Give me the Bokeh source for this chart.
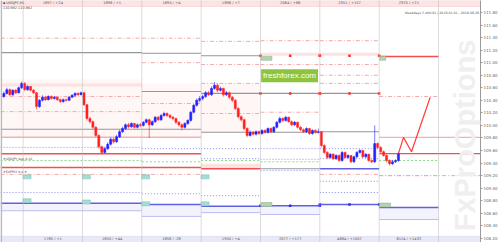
import math
from bokeh.plotting import figure
from bokeh.models import Range1d, FixedTicker, BoxAnnotation, Label, Span, NumeralTickFormatter
from bokeh.core.properties import value
from bokeh.embed import file_html
from bokeh.resources import INLINE

# ---------------- data ----------------
first_open = 110.46
closes = [110.51, 110.57, 110.49, 110.56, 110.52, 110.60, 110.67, 110.57, 110.62, 110.56,
          110.52, 110.30, 110.40, 110.45, 110.41, 110.46, 110.43, 110.45, 110.41, 110.38,
          110.41, 110.40, 110.45, 110.48, 110.51, 110.49, 110.52, 110.33, 110.11, 110.06,
          109.97, 109.84, 109.66, 109.57, 109.63, 109.70, 109.78, 109.74, 109.82, 109.90,
          109.95, 110.01, 109.98, 110.03, 109.97, 110.01, 110.00, 110.05, 110.09, 110.01,
          110.06, 110.13, 110.09, 110.16, 110.19, 110.16, 110.13, 110.11, 110.05, 110.01,
          109.97, 110.03, 110.08, 110.21, 110.32, 110.40, 110.43, 110.46, 110.52, 110.49,
          110.59, 110.64, 110.56, 110.59, 110.49, 110.52, 110.45, 110.40, 110.27, 110.14,
          110.09, 109.95, 109.84, 109.89, 109.86, 109.90, 109.87, 109.92, 109.89, 109.95,
          109.90, 109.97, 110.05, 110.11, 110.08, 110.13, 110.06, 110.01, 110.05, 109.97,
          109.93, 109.90, 109.95, 109.87, 109.92, 109.89, 109.90, 109.68, 109.57, 109.49,
          109.54, 109.47, 109.52, 109.44, 109.57, 109.49, 109.52, 109.42, 109.50, 109.57,
          109.60, 109.50, 109.54, 109.44, 109.42, 109.71, 109.65, 109.58, 109.52, 109.44,
          109.39, 109.42, 109.44, 109.55]
highs = [110.54, 110.60, 110.59, 110.58, 110.58, 110.62, 110.70, 110.69, 110.64, 110.63,
         110.58, 110.53, 110.42, 110.48, 110.47, 110.48, 110.48, 110.47, 110.46, 110.43,
         110.43, 110.43, 110.47, 110.50, 110.53, 110.53, 110.54, 110.53, 110.34, 110.14,
         110.08, 109.99, 109.86, 109.68, 109.66, 109.73, 109.81, 109.80, 109.85, 109.93,
         109.98, 110.03, 110.04, 110.05, 110.04, 110.03, 110.04, 110.07, 110.11, 110.11,
         110.08, 110.15, 110.15, 110.18, 110.22, 110.21, 110.18, 110.15, 110.12, 110.07,
         110.03, 110.05, 110.10, 110.23, 110.34, 110.43, 110.47, 110.49, 110.55, 110.55,
         110.62, 110.69, 110.67, 110.62, 110.60, 110.55, 110.54, 110.47, 110.42, 110.29,
         110.16, 110.11, 109.97, 109.92, 109.91, 109.92, 109.92, 109.94, 109.94, 109.97,
         109.97, 109.99, 110.07, 110.14, 110.13, 110.15, 110.14, 110.08, 110.07, 110.06,
         109.99, 109.95, 109.97, 109.96, 109.94, 109.94, 109.95, 109.91, 109.70, 109.59,
         109.56, 109.56, 109.54, 109.54, 109.59, 109.58, 109.54, 109.53, 109.52, 109.59,
         109.62, 109.61, 109.56, 109.55, 109.46, 110.00, 109.73, 109.67, 109.60, 109.54,
         109.46, 109.45, 109.46, 109.58]
lows = [110.44, 110.49, 110.47, 110.47, 110.50, 110.51, 110.58, 110.55, 110.55, 110.54,
        110.50, 110.26, 110.28, 110.38, 110.39, 110.40, 110.41, 110.41, 110.39, 110.36,
        110.36, 110.38, 110.39, 110.44, 110.46, 110.47, 110.48, 110.31, 110.08, 110.03,
        109.94, 109.81, 109.63, 109.54, 109.55, 109.61, 109.68, 109.71, 109.72, 109.80,
        109.88, 109.93, 109.95, 109.96, 109.95, 109.95, 109.97, 109.98, 110.03, 109.80,
        109.99, 110.04, 110.07, 110.07, 110.14, 110.13, 110.11, 110.08, 110.02, 109.98,
        109.92, 109.95, 110.01, 110.06, 110.19, 110.30, 110.37, 110.40, 110.44, 110.47,
        110.47, 110.57, 110.53, 110.54, 110.46, 110.47, 110.42, 110.37, 110.24, 110.11,
        110.06, 109.92, 109.81, 109.82, 109.84, 109.84, 109.85, 109.85, 109.87, 109.87,
        109.88, 109.88, 109.95, 110.03, 110.05, 110.06, 110.04, 109.99, 109.99, 109.95,
        109.91, 109.88, 109.88, 109.85, 109.85, 109.87, 109.87, 109.65, 109.54, 109.46,
        109.47, 109.45, 109.45, 109.42, 109.42, 109.47, 109.47, 109.40, 109.40, 109.48,
        109.55, 109.48, 109.48, 109.42, 109.40, 109.40, 109.63, 109.56, 109.50, 109.41,
        109.36, 109.37, 109.40, 109.42]
opens = [first_open] + closes[:-1]

# forecast path
fc_x = [133, 134.7, 137.4, 143.7]
fc_y = [109.55, 109.81, 109.58, 110.45]

# session separators (bar index) and level groups
separators = [6.5, 26.5, 46.5, 66.5, 86.5, 106.5, 126.5, 146.5]
groups = [(-1.14, 46.5), (46.5, 66.5), (66.5, 86.5), (86.5, 106.5), (106.5, 126.5), (126.5, 146.5)]

pink_dashdot = [[111.39, 110.46, 110.22, 109.22], [111.39, 111.00, 110.35, 109.22],
                [111.34, 110.97, 110.67, 110.19], [111.35, 110.97, 110.21],
                [111.35, 110.97, 110.80, 110.67, 109.22], [110.46, 109.20]]
gray_lines = [[111.16, 109.94], [111.15, 110.54, 109.94], [111.11, 110.51, 109.89],
              [110.51, 109.89, 109.31], [110.51, 109.90], []]
red_light = [[109.81], [109.81], [], [], [], []]
red_strong = [[109.55, 109.33], [109.55, 109.33], [109.31], [], [], [111.10]]
blue_dotted = [[109.65, 108.93], [109.63, 108.91], [109.63, 109.47, 108.88],
               [109.63, 109.46, 109.28], [109.63, 109.47, 109.11, 108.93], []]
green_dashed = [[109.44], [109.42], [109.44], [109.42], [], [109.44]]
blue_solid = [[108.76], [108.74], [108.71], [108.72], [109.31, 108.74], [108.69]]
blue_light = [[108.64], [108.55], [108.61], [108.58], [], [108.50]]
pink_zone = [(110.73, 109.81), (110.67, 109.81), (110.67, 109.89), None, None, None]
pink_band = [(110.67, 110.62), None, (109.39, 109.31), (111.16, 111.11), (111.16, 111.11), None]

last_levels = [109.81, 109.55]
last_labels = ["109.81", "109.55"]

top_labels = ["1897 / +24", "1898 / +1", "1895 / +4", "1896 / +7", "2064 / +86", "2351 / +157", "2370 / +21"]
bottom_labels = ["1785 / +1", "1850 / +44", "1858 / -28", "1950 / +4", "2077 / +177", "4684 / +1007", "6124 / +1432"]

tick_values = [111.80, 111.60, 111.40, 111.20, 111.00, 110.80, 110.60, 110.40, 110.20, 110.00,
               109.80, 109.60, 109.40, 109.20, 109.00, 108.80, 108.60, 108.40, 108.20]

# ---------------- figure ----------------
X0, X1 = -1.14, 160.66
Y0, Y1 = 108.134, 111.991
p = figure(width=500, height=242, x_range=Range1d(X0, X1), y_range=Range1d(Y0, Y1),
           output_backend="svg", toolbar_location=None, min_border=0,
           x_axis_location=None, y_axis_location="right")
p.grid.visible = False
p.outline_line_color = None
p.background_fill_color = "white"
p.border_fill_color = "white"

ax = p.yaxis[0]
ax.ticker = FixedTicker(ticks=tick_values)
ax.formatter = NumeralTickFormatter(format="0.00")
ax.major_label_text_font_size = "4px"
ax.major_label_text_color = "#666666"
ax.major_label_text_font = "DejaVu Sans"
ax.major_tick_out = 2
ax.major_tick_in = 0
ax.minor_tick_line_color = None
ax.major_label_standoff = 1
ax.axis_line_color = "#9a9a9a"
ax.major_tick_line_color = "#9a9a9a"

# faint zones and bands
zl, zr, zt, zb = [], [], [], []
for g, z in zip(groups, pink_zone):
    if z:
        zl.append(g[0]); zr.append(g[1]); zt.append(z[0]); zb.append(z[1])
p.quad(left=zl, right=zr, top=zt, bottom=zb, fill_color="#fff6f6", line_color=None)

bl, br, bt, bb = [], [], [], []
for g, z in zip(groups, pink_band):
    if z:
        bl.append(g[0]); br.append(g[1]); bt.append(z[0]); bb.append(z[1])
p.quad(left=bl, right=br, top=bt, bottom=bb, fill_color="#fde2e2", line_color=None)

ll, lr, lt, lb = [], [], [], []
for g, a, b in zip(groups, blue_solid, blue_light):
    if a and b:
        ll.append(g[0]); lr.append(g[1]); lt.append(a[-1]); lb.append(b[0])
p.quad(left=ll, right=lr, top=lt, bottom=lb, fill_color="#f3f3fd", line_color=None)


def level_segments(levels):
    x0, x1, y = [], [], []
    for g, lv in zip(groups, levels):
        for v in lv:
            x0.append(g[0]); x1.append(g[1]); y.append(v)
    return dict(x0=x0, x1=x1, y0=y, y1=y)


def draw(levels, **kw):
    d = level_segments(levels)
    p.segment(x0=d["x0"], x1=d["x1"], y0=d["y0"], y1=d["y1"], **kw)


draw(pink_dashdot, line_color="#f4a8a8", line_dash="4 2 1 2", line_width=1)
draw(gray_lines, line_color="#969696", line_width=1.1)
draw(red_light, line_color="#f7b0b0", line_width=1.5)
draw(red_strong, line_color="#f25050", line_width=1.5)
draw(blue_dotted, line_color="#8a8ae8", line_dash="1 2", line_width=1)
draw(green_dashed, line_color="#8ad88a", line_dash="2 2", line_width=1)
draw(blue_solid, line_color="#6060e6", line_width=1.5)
draw(blue_light, line_color="#bcbcf2", line_width=1)

# last-session levels running to the price scale
g_last = groups[-1]
p.segment(x0=[g_last[0]] * 2, x1=[X1] * 2, y0=last_levels, y1=last_levels,
          line_color=["#f7b0b0", "#f25050"], line_width=1.4)
p.segment(x0=[g_last[0]], x1=[X1], y0=[pink_dashdot[-1][-1]], y1=[pink_dashdot[-1][-1]],
          line_color="#f4a8a8", line_dash="4 2 1 2", line_width=1)

# separators
for s in separators:
    p.add_layout(Span(location=s, dimension="height", line_color="#b8b8b8",
                      line_dash="1 1", line_width=1))

# candles
idx = list(range(len(closes)))
up = [c >= o for o, c in zip(opens, closes)]
col = ["#1f1fff" if u else "#ff2020" for u in up]
p.segment(x0=idx, x1=idx, y0=lows, y1=highs, line_color=col, line_width=1, line_alpha=0.6)
p.vbar(x=idx, width=0.7, top=[max(o, c) for o, c in zip(opens, closes)],
       bottom=[min(o, c) for o, c in zip(opens, closes)], fill_color=col, line_color=col, line_width=0.5)

# forecast
p.line(fc_x, fc_y, line_color="#ff3b3b", line_width=1.2)

# small markers on levels
mx, my, mc = [], [], []
for gi in (3, 4):
    g = groups[gi]
    mid = (g[0] + g[1]) / 2
    for xx in (g[0], mid, g[1]):
        mx.append(xx); my.append(pink_band[gi][1]); mc.append("#ff2a2a")
        mx.append(xx); my.append(gray_lines[gi][0]); mc.append("#ff2a2a")
        mx.append(xx); my.append(blue_solid[gi][-1]); mc.append("#2a2aff")
p.scatter(mx, my, marker="square", size=2.5, fill_color=mc, line_color=None)

# tags at session starts
tx, ty = [], []
for k in range(4):
    tx.append(separators[k] + 1.3); ty.append(pink_dashdot[0][-1] - 0.04)
    tx.append(separators[k] + 1.3); ty.append(blue_solid[min(k, 2)][0] + 0.04)
p.rect(x=tx, y=ty, width=8, height=4, width_units="screen", height_units="screen",
       fill_color="#a6dcd6", line_color="#7bbdb5", line_width=0.5)
p.rect(x=[groups[3][0] + 2, groups[5][0] + 1.2, groups[3][0] + 2, groups[5][0] + 2],
       y=[111.07, 111.07, blue_solid[3][0] + 0.02, blue_solid[5][0] + 0.04],
       width=[11, 6, 11, 11], height=4, width_units="screen", height_units="screen",
       fill_color="#b5d3b0", line_color="#88aa88", line_width=0.5)

# top & bottom info bars
p.add_layout(BoxAnnotation(bottom=111.896, fill_color="#fde4e4", fill_alpha=1,
                           line_color="#f3aaaa", line_width=1, level="underlay"))
p.add_layout(BoxAnnotation(top=108.232, fill_color="#e7e9f7", fill_alpha=1,
                           line_color="#c2c6ea", line_width=1, level="underlay"))
p.add_layout(BoxAnnotation(right=-0.6, fill_color="#b9b9b9", fill_alpha=1, line_color=None))

centers = [(separators[k] + separators[k + 1]) / 2 for k in range(len(separators) - 1)]
p.text(x=centers, y=[111.944] * len(centers), text=top_labels, text_font=value("DejaVu Sans"),
       text_font_size="3.6px", text_color="#555555", text_align="center", text_baseline="middle")
p.text(x=centers, y=[108.183] * len(centers), text=bottom_labels, text_font=value("DejaVu Sans"),
       text_font_size="3.6px", text_color="#555555", text_align="center", text_baseline="middle")

p.text(x=[-0.3, -0.3], y=[111.955, 111.875], text=["\u25aa USDJPY,H1", "110.982 110.982"],
       text_font=value("DejaVu Sans"), text_font_size="3.4px", text_color="#444444",
       text_align="left", text_baseline="middle")
p.text(x=[-0.3, -0.3], y=[109.47, 109.26], text=["#USDJPY Avg 0.16", "#SUPPLY 0.4 #"],
       text_font=value("DejaVu Sans"), text_font_size="3.2px", text_color="#444444",
       text_align="left", text_baseline="middle")
p.text(x=[X1 - 0.5], y=[111.79], text=["Weekdays 5.400.91 | 2018.01.01 - 2018.08.28"],
       text_font=value("DejaVu Sans"), text_font_size="3.2px", text_color="#555555",
       text_align="right", text_baseline="middle")

# watermark
p.add_layout(Label(x=155.4, y=109.84, text="FxProOptions", angle=math.pi / 2,
                   text_font="Liberation Sans", text_font_style="bold", text_font_size="29px",
                   text_color="#efefef", text_align="center", text_baseline="middle"))

# sponsor box
p.add_layout(Label(x=96.3, y=110.79, text="freshforex.com", text_font="Liberation Sans",
                   text_font_size="8px", text_color="white", text_align="center",
                   text_baseline="middle", background_fill_color="#8cc43f",
                   background_fill_alpha=1, padding=2))

# price tags on the scale
for lvl, lab, bg in zip(last_levels, last_labels, ["#ff3030", "#111111"]):
    p.add_layout(Label(x=X1, y=lvl, text=lab, x_offset=1, text_font="DejaVu Sans",
                       text_font_size="4px", text_color="white", text_align="left",
                       text_baseline="middle", background_fill_color=bg,
                       background_fill_alpha=1, padding=1))

open("out.html", "w").write(file_html(p, INLINE))
